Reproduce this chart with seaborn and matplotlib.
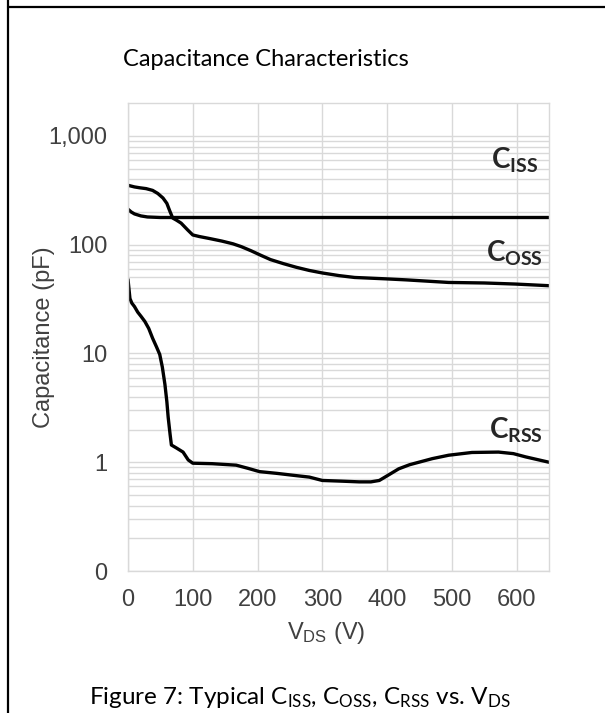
# Capacitance characteristics chart (Ciss, Coss, Crss vs Vds)

import numpy as np
import pandas as pd
import matplotlib
matplotlib.use("Agg")
import matplotlib.pyplot as plt
from matplotlib.lines import Line2D
import seaborn as sns

# Data
vds_ciss = [0, 5, 10, 20, 30, 50, 650]
ciss = [212, 200, 192, 184, 180, 178, 178]

vds_coss = [0, 10, 18, 28, 38, 46, 54, 60, 64, 69, 75, 82, 92, 100, 110, 126, 145, 162, 175, 190, 205, 220, 240,
            260, 280, 300, 326, 350, 367, 400, 430, 495, 550, 598, 650]
coss = [352, 340, 334, 328, 316, 296, 269, 240, 208, 176, 168, 158, 137, 123, 119, 114, 108, 102, 96, 88, 80, 73, 67,
        62, 58, 55, 52, 50, 49.5, 48.5, 47.5, 45, 44.5, 43.5, 42]

vds_crss = [0, 3, 6, 10, 15, 20, 26, 32, 38, 44, 49, 53, 57, 60, 62, 65, 67, 75, 85, 93, 100, 130, 167, 185, 203,
            230, 254, 280, 300, 330, 357, 375, 388, 400, 418, 435, 449, 470, 495, 531, 572, 595, 614, 650]
crss = [48, 32, 29, 27, 24, 22, 19.7, 17, 13.8, 11.5, 9.8, 7.5, 5.2, 3.6, 2.6, 1.8, 1.44, 1.35, 1.24, 1.05, 0.98,
        0.97, 0.94, 0.88, 0.82, 0.79, 0.76, 0.73, 0.68, 0.67, 0.66, 0.66, 0.68, 0.75, 0.87, 0.95, 1.0, 1.08, 1.16,
        1.23, 1.24, 1.2, 1.12, 1.0]

y_major = [0.1, 1, 10, 100, 1000]
y_major_labels = ["0", "1", "10", "100", "1,000"]
x_ticks = [0, 100, 200, 300, 400, 500, 600]

# Theme
sns.set_theme(style="white")
plt.rcParams['font.family'] = ['Liberation Sans', 'DejaVu Sans']
plt.rcParams['mathtext.default'] = 'regular'

fig = plt.figure(figsize=(6.05, 7.13), dpi=100)
ax = fig.add_axes([128 / 605, 1 - 571 / 713, 421 / 605, 468 / 713])

grid_color = "#d9d9d9"
text_color = "#404040"

# Curves
for v, c in [(vds_ciss, ciss), (vds_coss, coss), (vds_crss, crss)]:
    df = pd.DataFrame({"Vds": v, "C": c})
    sns.lineplot(data=df, x="Vds", y="C", ax=ax, color="black", linewidth=2.4,
                 sort=False, estimator=None)

ax.set_yscale("log")
ax.set_xlim(0, 650)
ax.set_ylim(0.1, 2010)

# Gridlines: majors + 0.2..0.9 per decade, nothing above 1000
minors = [m * d for d in [0.1, 1, 10, 100] for m in range(2, 10)]
ax.set_yticks(y_major)
ax.set_yticklabels(y_major_labels)
ax.set_yticks(minors, minor=True)
ax.set_yticklabels([], minor=True)
ax.set_xticks(x_ticks)
ax.grid(True, which="both", axis="y", color=grid_color, linewidth=1.0)
ax.grid(True, which="major", axis="x", color=grid_color, linewidth=1.0)
ax.tick_params(which="both", length=0)
ax.tick_params(axis="y", pad=15, labelsize=17, labelcolor=text_color)
ax.tick_params(axis="x", pad=13, labelsize=17, labelcolor=text_color)
for s in ax.spines.values():
    s.set_color(grid_color)
    s.set_linewidth(1.0)

ax.set_xlabel("V$_{DS}$ (V)", fontsize=17, color=text_color)
ax.set_ylabel("Capacitance (pF)", fontsize=17, color=text_color)
ax.xaxis.set_label_coords(0.47, -0.105)
ax.yaxis.set_label_coords(-0.173, 0.5)

# Curve labels
lab = dict(family="Lato", fontweight="bold", fontsize=20, va="center", ha="left")
ax.text(560, 600, "C$_{ISS}$", **lab)
ax.text(553, 84, "C$_{OSS}$", **lab)
ax.text(557, 1.97, "C$_{RSS}$", **lab)

# Title and caption
fig.text(266 / 605, 1 - 60 / 713, "Capacitance Characteristics", family="Lato",
         fontsize=17, ha="center", va="center", color="black")
fig.text(300 / 605, 1 - 698 / 713,
         "Figure 7: Typical C$_{ISS}$, C$_{OSS}$, C$_{RSS}$ vs. V$_{DS}$",
         family="Lato", fontsize=17.5, ha="center", va="center", color="black")

# Frame lines from the document
fig.add_artist(Line2D([7.5 / 605, 7.5 / 605], [0, 1], transform=fig.transFigure, color="black", linewidth=1.6))
fig.add_artist(Line2D([7.5 / 605, 1], [1 - 7 / 713, 1 - 7 / 713], transform=fig.transFigure, color="black", linewidth=1.6))

fig.savefig("out.png", dpi=100)
